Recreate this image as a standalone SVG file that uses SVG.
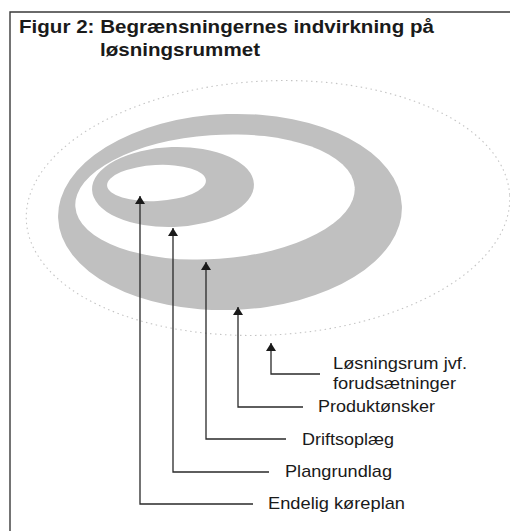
<svg xmlns="http://www.w3.org/2000/svg" width="510" height="531" viewBox="0 0 510 531">
<style>
.frame{fill:none;stroke:#3a3a3a;stroke-width:1.4}
.title{font-family:"Liberation Sans",Arial,sans-serif;font-weight:bold;font-size:18px;fill:#1a1a1a}
.lbl{font-family:"Liberation Sans",Arial,sans-serif;font-size:17px;fill:#1a1a1a}
.ring{fill:#c0c0c0;stroke:none}
.hole{fill:#ffffff;stroke:none}
.dots{fill:none;stroke:#c4c4c4;stroke-width:1.1;stroke-dasharray:1.5 3.5}
.conn{fill:none;stroke:#2a2a2a;stroke-width:1.3}
</style>
<defs>
<marker id="arrow" viewBox="0 0 8 10" refX="8" refY="5" markerWidth="8" markerHeight="10" markerUnits="userSpaceOnUse" orient="auto">
<path d="M0,0 L8,5 L0,10 z" fill="#1a1a1a"/>
</marker>
</defs>
<rect width="510" height="531" fill="#ffffff"/>
<path class="frame" d="M10,531 V12 H510"/>
<g id="title">
<text class="title" x="19" y="32.5" textLength="415" lengthAdjust="spacingAndGlyphs">Figur 2: Begrænsningernes indvirkning på</text>
<text class="title" x="100" y="56" textLength="160" lengthAdjust="spacingAndGlyphs">løsningsrummet</text>
</g>
<g id="losningsrum-ellipse">
<ellipse class="dots" cx="268" cy="208" rx="242" ry="127" transform="rotate(-3 268 208)"/>
</g>
<g id="produktonsker-ellipse">
<ellipse class="ring" cx="230" cy="212" rx="172" ry="98" transform="rotate(-2 230 212)"/>
</g>
<g id="driftsoplaeg-ellipse">
<ellipse class="hole" cx="215" cy="197" rx="140" ry="62" transform="rotate(-4 215 197)"/>
</g>
<g id="plangrundlag-ellipse">
<ellipse class="ring" cx="173" cy="187" rx="81" ry="40" transform="rotate(-2 173 187)"/>
</g>
<g id="endelig-ellipse">
<ellipse class="hole" cx="156.5" cy="183" rx="49.5" ry="18" transform="rotate(-3 156.5 183)"/>
</g>
<g id="connectors">
<path class="conn" d="M320,374 H271 V343" marker-end="url(#arrow)"/>
<path class="conn" d="M303,407 H238 V307" marker-end="url(#arrow)"/>
<path class="conn" d="M286,439 H206 V262" marker-end="url(#arrow)"/>
<path class="conn" d="M269,472 H173 V228" marker-end="url(#arrow)"/>
<path class="conn" d="M253,504 H140 V196" marker-end="url(#arrow)"/>
</g>
<g id="label-losningsrum">
<text class="lbl" x="333" y="369" textLength="134" lengthAdjust="spacingAndGlyphs">Løsningsrum jvf.</text>
<text class="lbl" x="333" y="389" textLength="123" lengthAdjust="spacingAndGlyphs">forudsætninger</text>
</g>
<g id="label-produktonsker">
<text class="lbl" x="318" y="412" textLength="117" lengthAdjust="spacingAndGlyphs">Produktønsker</text>
</g>
<g id="label-driftsoplaeg">
<text class="lbl" x="302" y="445" textLength="92" lengthAdjust="spacingAndGlyphs">Driftsoplæg</text>
</g>
<g id="label-plangrundlag">
<text class="lbl" x="285" y="477" textLength="107" lengthAdjust="spacingAndGlyphs">Plangrundlag</text>
</g>
<g id="label-endelig">
<text class="lbl" x="268" y="509" textLength="137" lengthAdjust="spacingAndGlyphs">Endelig køreplan</text>
</g>
</svg>
